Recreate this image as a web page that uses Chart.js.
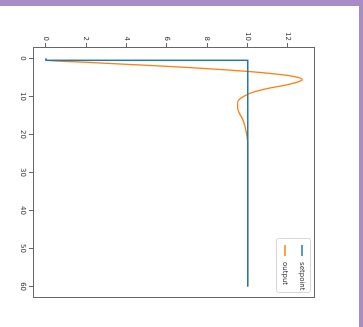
<!DOCTYPE html>
<html>
<head>
<meta charset="utf-8">
<script src="https://cdn.jsdelivr.net/npm/chart.js@4.4.1/dist/chart.umd.min.js"></script>
<style>
	html, body { margin: 0; padding: 0; }
	body { width: 363px; height: 327px; background: #a88cc8; position: relative; overflow: hidden; }
	.sheet { position: absolute; left: 0; top: 6px; width: 359px; height: 321px; background: #ffffff; }
	.turn { position: absolute; left: 0; top: 0; width: 327px; height: 363px;
		transform-origin: top left; transform: translateX(363px) rotate(90deg); }
	.turn canvas { filter: blur(0.5px); }
</style>
</head>
<body>
<div class="sheet"></div>
<div class="turn"><canvas id="chart" width="327" height="363"></canvas></div>
<script>

// step response
const timeOut = [0, 0.5, 1, 1.5, 2, 2.5, 3, 3.5, 4, 4.5, 5, 5.5, 6, 7, 8, 9, 10, 11, 12, 13, 14, 16, 18, 20, 22, 25, 30, 40, 50, 60];
const output = [0, 0, 1.9, 3.8, 5.7, 7.4, 8.9, 10.2, 11.2, 12.0, 12.5, 12.7, 12.6, 11.9, 10.9, 10.2, 9.8, 9.55, 9.5, 9.5, 9.55, 9.75, 9.87, 9.95, 10.0, 10.0, 10.0, 10.0, 10.0, 10.0];
const timeSet = [0, 0.5, 0.5, 60];
const setpoint = [0, 0, 10, 10];

const labels = ['setpoint', 'output'];
const colors = ['#1f77b4', '#ff7f0e'];
const timeTicks = [0, 10, 20, 30, 40, 50, 60];
const valueTicks = [0, 2, 4, 6, 8, 10, 12];

const font = {family: 'DejaVu Sans', size: 7};
const ink = '#666666';


function points(xs, ys) {
	return xs.map((x, i) => ({x: x, y: ys[i]}));
}


// axes frame and a matplotlib style legend in the upper right
const frameLegend = {
	id: 'frameLegend',
	afterDraw(chart) {
		const ctx = chart.ctx;
		const area = chart.chartArea;

		ctx.save();
		ctx.strokeStyle = ink;
		ctx.lineWidth = 1;
		ctx.strokeRect(area.left + 0.5, area.top + 0.5, area.right - area.left - 1, area.bottom - area.top - 1);

		const w = 54, h = 34;
		const left = area.right - 6 - w, top = area.top + 4;

		ctx.fillStyle = 'rgba(255,255,255,0.8)';
		ctx.strokeStyle = '#d6d6d6';
		ctx.beginPath();
		ctx.roundRect(left + 0.5, top + 0.5, w, h, 2);
		ctx.fill();
		ctx.stroke();

		ctx.font = font.size + 'px ' + font.family;
		ctx.textBaseline = 'middle';
		chart.data.datasets.forEach(function(ds, i) {
			const cy = top + 9 + i * 17;
			ctx.strokeStyle = ds.borderColor;
			ctx.lineWidth = 1.5;
			ctx.beginPath();
			ctx.moveTo(left + 7, cy);
			ctx.lineTo(left + 18, cy);
			ctx.stroke();
			ctx.fillStyle = '#333333';
			ctx.fillText(ds.label, left + 24, cy);
		});
		ctx.restore();
	}
};


const config = {
	type: 'line',
	data: {
		datasets: [{
			label: labels[0],
			data: points(timeSet, setpoint),
			borderColor: colors[0],
			borderWidth: 1.5,
			pointRadius: 0,
			tension: 0
		}, {
			label: labels[1],
			data: points(timeOut, output),
			borderColor: colors[1],
			borderWidth: 1.3,
			pointRadius: 0,
			cubicInterpolationMode: 'monotone'
		}]
	},
	options: {
		responsive: false,
		animation: false,
		layout: {padding: {left: 20, right: 29, top: 48, bottom: 0}},
		plugins: {
			legend: {display: false},
			tooltip: {enabled: false}
		},
		scales: {
			x: {
				type: 'linear',
				min: -3,
				max: 63,
				afterBuildTicks: (scale) => { scale.ticks = timeTicks.map(v => ({value: v})); },
				afterFit: (scale) => { scale.height = 33; },
				grid: {drawOnChartArea: false, drawTicks: true, tickLength: 4, color: ink},
				border: {display: false},
				ticks: {font: font, color: '#333333', padding: 2, maxRotation: 0}
			},
			y: {
				type: 'linear',
				min: -0.64,
				max: 13.34,
				afterBuildTicks: (scale) => { scale.ticks = valueTicks.map(v => ({value: v})); },
				afterFit: (scale) => { scale.width = 27; },
				grid: {drawOnChartArea: false, drawTicks: true, tickLength: 4, color: ink},
				border: {display: false},
				ticks: {font: font, color: '#333333', padding: 2}
			}
		}
	},
	plugins: [frameLegend]
};

new Chart(document.getElementById('chart').getContext('2d'), config);

</script>
</body>
</html>
